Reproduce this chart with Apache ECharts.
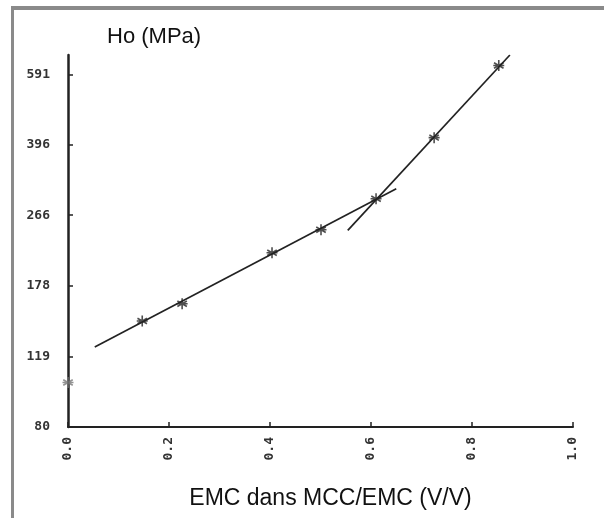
<!DOCTYPE html>
<html>
<head>
<meta charset="utf-8">
<script src="https://cdn.jsdelivr.net/npm/echarts@6/dist/echarts.min.js"></script>
<style>
html,body{margin:0;padding:0;background:#fff;}
#chart{width:604px;height:518px;position:relative;}
#frame{position:absolute;left:11px;top:6px;width:600px;height:520px;border-top:4px solid #8a8a8a;border-left:3px solid #8a8a8a;pointer-events:none;}
</style>
</head>
<body>
<div id="chart"></div>
<div id="frame"></div>
<script>
// measured points (stars)
const starX = [0.0, 0.147, 0.226, 0.404, 0.501, 0.61, 0.725, 0.853];
const starY = [103, 146, 161, 215, 245, 292, 413, 622];
// fitted lines (end points as drawn)
const lowLineX = [0.053, 0.65];
const lowLineY = [126, 309];
const highLineX = [0.554, 0.875];
const highLineY = [244, 660];
// axis ticks
const yTicks = [80, 119, 178, 266, 396, 591];
const xTicks = [0.0, 0.2, 0.4, 0.6, 0.8, 1.0];
const yTitle = 'Ho (MPa)';
const xTitle = 'EMC dans MCC/EMC (V/V)';

const zip = (a, b) => a.map((v, i) => [v, b[i]]);
const starPath = 'path://M0,-5L0,5M-4.33,-2.5L4.33,2.5M-4.33,2.5L4.33,-2.5M-5,0L5,0';

const chart = echarts.init(document.getElementById('chart'), null, {renderer: 'canvas'});
chart.setOption({
  backgroundColor: 'transparent',
  animation: false,
  title: {
    text: yTitle, left: 102, top: 21,
    textStyle: {fontFamily: 'Liberation Sans, Arial, sans-serif', fontSize: 22, fontWeight: 'normal', color: '#111'}
  },
  grid: {left: 68, right: 31, top: 55, bottom: 91, containLabel: false},
  xAxis: {
    type: 'value', min: 0, max: 1, interval: 0.2,
    name: xTitle, nameLocation: 'middle', nameGap: 60,
    nameTextStyle: {fontFamily: 'Liberation Sans, Arial, sans-serif', fontSize: 23, color: '#111', padding: [0, 0, 0, 20]},
    axisLine: {show: true, lineStyle: {color: '#222', width: 2}},
    axisTick: {show: true, inside: true, length: 5, lineStyle: {color: '#222', width: 1.5}, customValues: xTicks},
    axisLabel: {
      rotate: 90, margin: 10, color: '#333', fontWeight: 'bold', fontSize: 13,
      fontFamily: 'DejaVu Sans Mono, monospace', customValues: xTicks,
      formatter: v => Number(v).toFixed(1)
    },
    splitLine: {show: false}
  },
  yAxis: {
    type: 'log', min: 80, max: 660, logBase: 10,
    axisLine: {show: true, lineStyle: {color: '#222', width: 2.5}},
    axisTick: {show: true, inside: true, length: 5, lineStyle: {color: '#222', width: 1.5}, customValues: yTicks},
    axisLabel: {
      margin: 18, color: '#333', fontWeight: 'bold', fontSize: 13,
      fontFamily: 'DejaVu Sans Mono, monospace', customValues: yTicks,
      formatter: v => String(Math.round(v))
    },
    splitLine: {show: false}
  },
  series: [
    {
      type: 'line', data: zip(lowLineX, lowLineY), showSymbol: false, symbol: 'none',
      lineStyle: {color: '#222', width: 1.7}, silent: true
    },
    {
      type: 'line', data: zip(highLineX, highLineY), showSymbol: false, symbol: 'none',
      lineStyle: {color: '#222', width: 1.7}, silent: true
    },
    {
      type: 'scatter', data: zip(starX, starY).map((p, i) => ({
        value: p,
        itemStyle: {borderColor: i === 0 ? '#777' : '#222'}
      })),
      symbol: starPath, symbolSize: 11, symbolKeepAspect: true,
      itemStyle: {color: 'rgba(0,0,0,0)', borderColor: '#222', borderWidth: 1.6},
      clip: false, silent: true, z: 5
    }
  ]
});
</script>
</body>
</html>
